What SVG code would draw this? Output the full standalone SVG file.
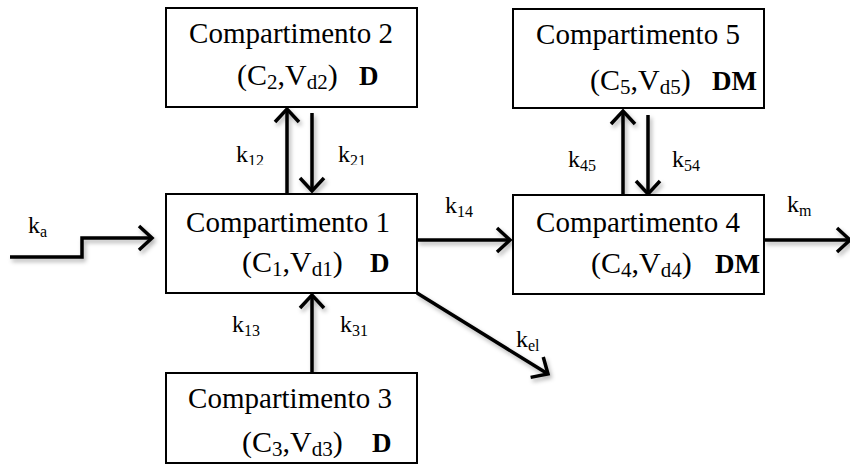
<svg xmlns="http://www.w3.org/2000/svg" width="850" height="473" viewBox="0 0 850 473" font-family="'Liberation Serif', 'Times New Roman', Times, serif">
<style>
.box{fill:#fff;stroke:#000;stroke-width:2}
text{font-family:'Liberation Serif', 'Times New Roman', Times, serif}
.t{font-size:29px;fill:#000}
.p{font-size:30px;fill:#000}
.b{font-size:27px;font-weight:bold;fill:#000}
.s{font-size:21px}
.lab{font-size:24px;fill:#000}
.ls{font-size:16px}
.c{fill:none;stroke:#000;stroke-width:3.5;marker-end:url(#ah)}
</style>
<defs>
<marker id="ah" markerUnits="userSpaceOnUse" markerWidth="18" markerHeight="26" refX="14" refY="12" orient="auto" overflow="visible">
<path d="M1,0 L14,12 L1,24" fill="none" stroke="#000" stroke-width="3.5" stroke-linejoin="miter"/>
</marker>
<filter id="sh" x="-20%" y="-20%" width="140%" height="140%">
<feDropShadow dx="2" dy="3" stdDeviation="2" flood-color="#000" flood-opacity="0.3"/>
</filter>
<clipPath id="clipTop"><rect x="0" y="0" width="850" height="165"/></clipPath>
</defs>

<g id="connectors" filter="url(#sh)">
<path class="c" d="M10,257 H82 V238 H152"/>
<path class="c" d="M287,194 V109"/>
<path class="c" d="M312,113 V191"/>
<path class="c" d="M623,195 V111"/>
<path class="c" d="M648,115 V194"/>
<path class="c" d="M417,240 H510"/>
<path class="c" d="M764,240 H850"/>
<path class="c" d="M312,373 V295"/>
<path class="c" d="M417,293 L548,374"/>
</g>

<g id="node2">
<rect class="box" x="166" y="8" width="251" height="99"/>
<text class="t" x="291" y="43" text-anchor="middle">Compartimento 2</text>
<text class="p" x="237" y="85">(C<tspan class="s" dy="4">2</tspan><tspan dy="-4">,V</tspan><tspan class="s" dy="4">d2</tspan><tspan dy="-4">)</tspan></text>
<text class="b" x="359" y="85">D</text>
</g>

<g id="node5">
<rect class="box" x="513" y="9" width="251" height="99"/>
<text class="t" x="638" y="44" text-anchor="middle">Compartimento 5</text>
<text class="p" x="590" y="90">(C<tspan class="s" dy="4">5</tspan><tspan dy="-4">,V</tspan><tspan class="s" dy="4">d5</tspan><tspan dy="-4">)</tspan></text>
<text class="b" x="712" y="90">DM</text>
</g>

<g id="node1">
<rect class="box" x="166" y="194" width="251" height="99"/>
<text class="t" x="288" y="232" text-anchor="middle">Compartimento 1</text>
<text class="p" x="242" y="272">(C<tspan class="s" dy="4">1</tspan><tspan dy="-4">,V</tspan><tspan class="s" dy="4">d1</tspan><tspan dy="-4">)</tspan></text>
<text class="b" x="370" y="272">D</text>
</g>

<g id="node4">
<rect class="box" x="513" y="195" width="251" height="99"/>
<text class="t" x="638" y="232" text-anchor="middle">Compartimento 4</text>
<text class="p" x="591" y="273">(C<tspan class="s" dy="4">4</tspan><tspan dy="-4">,V</tspan><tspan class="s" dy="4">d4</tspan><tspan dy="-4">)</tspan></text>
<text class="b" x="715" y="273">DM</text>
</g>

<g id="node3">
<rect class="box" x="166" y="373" width="251" height="90"/>
<text class="t" x="290" y="408" text-anchor="middle">Compartimento 3</text>
<text class="p" x="242" y="452">(C<tspan class="s" dy="4">3</tspan><tspan dy="-4">,V</tspan><tspan class="s" dy="4">d3</tspan><tspan dy="-4">)</tspan></text>
<text class="b" x="372" y="452">D</text>
</g>

<g id="labels">
<text class="lab" x="28" y="233">k<tspan class="ls" dy="4">a</tspan></text>
<g clip-path="url(#clipTop)">
<text class="lab" x="236" y="162">k<tspan class="ls" dy="4">12</tspan></text>
<text class="lab" x="338" y="162">k<tspan class="ls" dy="4">21</tspan></text>
</g>
<text class="lab" x="568" y="167">k<tspan class="ls" dy="4">45</tspan></text>
<text class="lab" x="672" y="167">k<tspan class="ls" dy="4">54</tspan></text>
<text class="lab" x="445" y="213">k<tspan class="ls" dy="4">14</tspan></text>
<text class="lab" x="787" y="212">k<tspan class="ls" dy="4">m</tspan></text>
<text class="lab" x="232" y="332">k<tspan class="ls" dy="4">13</tspan></text>
<text class="lab" x="340" y="332">k<tspan class="ls" dy="4">31</tspan></text>
<text class="lab" x="516" y="347">k<tspan class="ls" dy="4">el</tspan></text>
</g>
</svg>
